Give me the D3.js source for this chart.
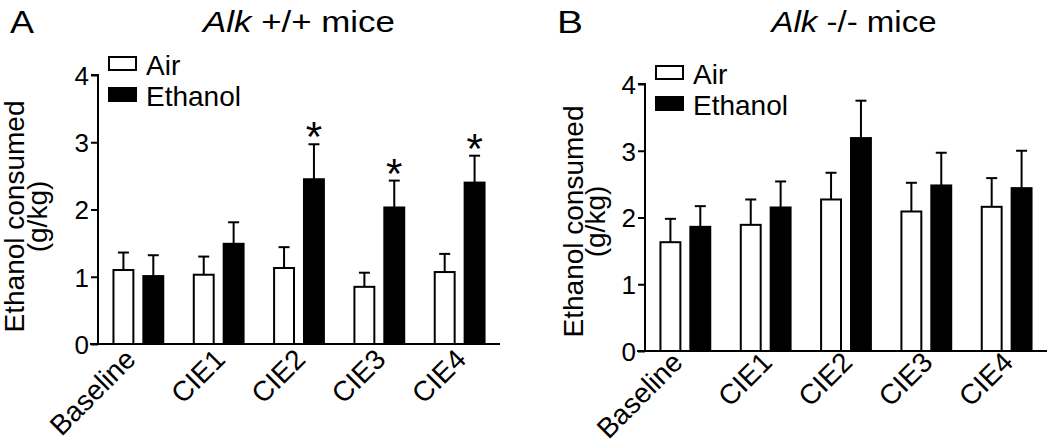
<!DOCTYPE html>
<html><head><meta charset="utf-8">
<script src="https://cdn.jsdelivr.net/npm/d3@7"></script>
<style>html,body{margin:0;padding:0;background:#fff}svg{display:block}text{font-family:"Liberation Sans",Arial,sans-serif;fill:#000}</style>
</head><body><svg id="c" width="1050" height="446"></svg>
<script>
const categories = ["Baseline","CIE1","CIE2","CIE3","CIE4"];
const seriesNames = ["Air","Ethanol"];
const yTicks = [0,1,2,3,4];
const wtAirMean = [1.10,1.03,1.13,0.85,1.07];
const wtAirSem  = [0.26,0.27,0.31,0.21,0.27];
const wtEthMean = [1.01,1.49,2.45,2.03,2.40];
const wtEthSem  = [0.31,0.32,0.52,0.40,0.40];
const wtSignif  = [false,false,true,true,true];
const koAirMean = [1.63,1.89,2.27,2.09,2.16];
const koAirSem  = [0.35,0.38,0.40,0.43,0.43];
const koEthMean = [1.86,2.15,3.19,2.48,2.44];
const koEthSem  = [0.31,0.39,0.56,0.49,0.56];
const koSignif  = [false,false,false,false,false];

const svg = d3.select("#c");

function panel(cfg){
  const g = svg.append("g");
  const x = d3.scaleBand().domain(categories).range([cfg.x0, cfg.x1]).paddingInner(0.355).paddingOuter(0.18);
  const xs = d3.scaleBand().domain(seriesNames).range([0, x.bandwidth()]).paddingInner(0.267);
  const y = d3.scaleLinear().domain([0,4]).range([cfg.y0, cfg.y4]);
  const rows = [];
  categories.forEach((c,i)=>{
    rows.push({c, s:"Air", m:cfg.air[i], e:cfg.airSem[i], sig:false});
    rows.push({c, s:"Ethanol", m:cfg.eth[i], e:cfg.ethSem[i], sig:cfg.sig[i]});
  });
  g.selectAll("rect.bar").data(rows).join("rect")
    .attr("x", d=>x(d.c)+xs(d.s)+1).attr("width", xs.bandwidth()-2)
    .attr("y", d=>y(d.m)).attr("height", d=>y(0)-y(d.m))
    .attr("fill", d=>d.s==="Air"?"#fff":"#000").attr("stroke","#000").attr("stroke-width",2);
  rows.forEach(d=>{
    const cx = x(d.c)+xs(d.s)+xs.bandwidth()/2;
    g.append("line").attr("x1",cx).attr("x2",cx).attr("y1",y(d.m)).attr("y2",y(d.m+d.e)).attr("stroke","#000").attr("stroke-width",2);
    g.append("line").attr("x1",cx-5.5).attr("x2",cx+5.5).attr("y1",y(d.m+d.e)).attr("y2",y(d.m+d.e)).attr("stroke","#000").attr("stroke-width",2);
    if(d.sig){
      g.append("text").attr("x",cx).attr("y",y(d.m+d.e)+7).attr("text-anchor","middle").attr("font-size",42).text("*");
    }
  });
  const ya = d3.axisLeft(y).tickValues(yTicks).tickSize(7).tickPadding(2).tickFormat(d3.format("d"));
  const yg = g.append("g").attr("transform",`translate(${cfg.x0},0)`).call(ya);
  yg.select(".domain").attr("stroke","#000").attr("stroke-width",2).attr("d",`M-7,${y(4)}H0V${y(0)}`);
  yg.selectAll(".tick line").attr("stroke","#000").attr("stroke-width",2);
  yg.selectAll(".tick text").attr("font-size",26).attr("font-family","Liberation Sans, Arial, sans-serif").attr("fill","#000").attr("dy","0.36em");
  const xa = d3.axisBottom(x).tickSize(0).tickPadding(0);
  const xg = g.append("g").attr("transform",`translate(0,${y(0)})`).call(xa);
  xg.select(".domain").attr("stroke","#000").attr("stroke-width",2).attr("d",`M${cfg.x0-8},0H${cfg.x1}`);
  xg.selectAll(".tick text").attr("font-size",28).attr("font-family","Liberation Sans, Arial, sans-serif").attr("fill","#000")
    .attr("text-anchor","end").attr("dy",null).attr("y",null)
    .attr("transform",(d,i)=>`translate(${i===0?-1:8},${cfg.xlabDy}) rotate(-45)`);
  const ly = (y(0)+y(4))/2 + cfg.labelDy;
  g.append("text").attr("transform",`translate(${cfg.x0+cfg.lab1},${ly}) rotate(-90)`).attr("text-anchor","middle").attr("font-size",28).text("Ethanol consumed");
  g.append("text").attr("transform",`translate(${cfg.x0+cfg.lab2},${ly}) rotate(-90)`).attr("text-anchor","middle").attr("font-size",28).text("(g/kg)");
  seriesNames.forEach((s,i)=>{
    const by = y(4) - 18 + i*31;
    g.append("rect").attr("x",cfg.x0+11).attr("y",by).attr("width",27).attr("height",13)
      .attr("fill", s==="Air"?"#fff":"#000").attr("stroke","#000").attr("stroke-width",2);
    g.append("text").attr("x",cfg.x0+48).attr("y",by+18).attr("font-size",28).text(s);
  });
  const t = g.append("text").attr("x",cfg.titleX).attr("y",32).attr("font-size",29).attr("text-anchor","middle")
    .attr("textLength",cfg.titleW).attr("lengthAdjust","spacingAndGlyphs");
  t.append("tspan").attr("font-style","italic").text("Alk");
  t.append("tspan").text(cfg.geno);
  g.append("text").attr("x",cfg.letterX).attr("y",33).attr("font-size",31)
    .attr("textLength",cfg.letterW).attr("lengthAdjust","spacingAndGlyphs").text(cfg.letter);
}

panel({x0:98, x1:500, y0:344, y4:75, air:wtAirMean, airSem:wtAirSem, eth:wtEthMean, ethSem:wtEthSem, sig:wtSignif,
  lab1:-74, lab2:-51, labelDy:7, xlabDy:17, titleX:299, titleW:192, geno:" +/+ mice", letter:"A", letterX:10, letterW:24});
panel({x0:645, x1:1047, y0:351, y4:84, air:koAirMean, airSem:koAirSem, eth:koEthMean, ethSem:koEthSem, sig:koSignif,
  lab1:-62, lab2:-40, labelDy:4, xlabDy:13, titleX:854, titleW:165, geno:" -/- mice", letter:"B", letterX:557, letterW:26});
</script></body></html>
